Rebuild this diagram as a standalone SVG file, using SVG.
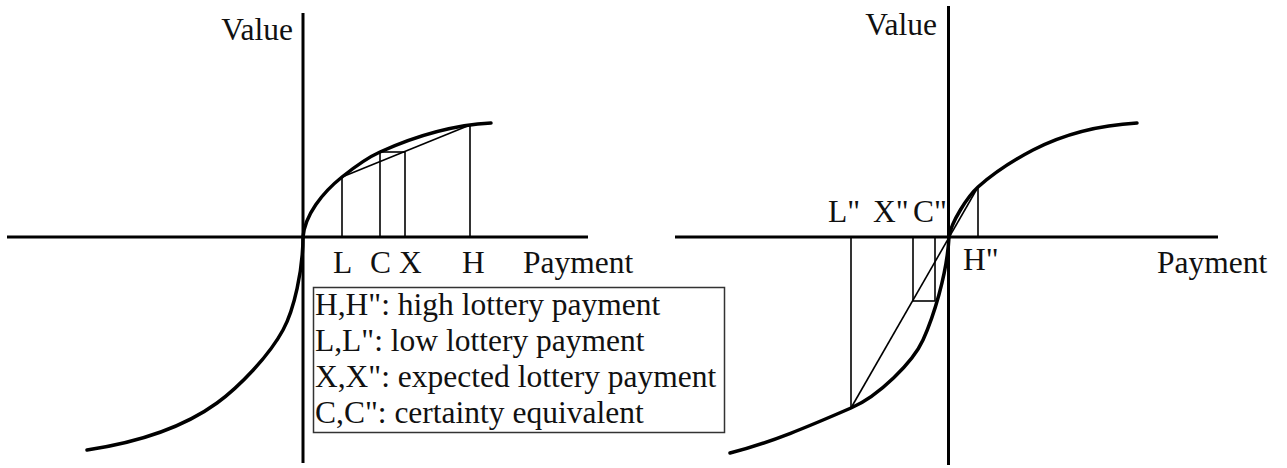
<svg xmlns="http://www.w3.org/2000/svg" width="1287" height="468" viewBox="0 0 1287 468">
<style>
text{font-family:"Liberation Serif","Times New Roman",serif;font-size:31.5px;fill:#111}
.axis{stroke:#000;stroke-width:3;fill:none}
.curve{stroke:#000;stroke-width:3.5;fill:none;stroke-linecap:round}
.thin{stroke:#000;stroke-width:1.6;fill:none}
.box{stroke:#333;stroke-width:1.5;fill:none}
</style>
<rect width="1287" height="468" fill="#fff"/>
<g id="left-diagram">
  <g id="left-axes">
    <line class="axis" x1="7" y1="237" x2="588" y2="237"/>
    <line class="axis" x1="303" y1="13" x2="303" y2="463"/>
    <text x="293" y="40" text-anchor="end">Value</text>
    <text x="523" y="273">Payment</text>
  </g>
  <g id="left-curve">
    <path class="curve" d="M303,237 C305,215 322,193 342,177 C355,166.6 367,157.8 380,152 C417,135.3 454,124.9 491,123"/>
    <path class="curve" d="M303,237 C303,270 294,310 283,330 C269,356 239,387 217,403 C177,432 127,444 87,450"/>
  </g>
  <g id="left-markers">
    <line class="thin" x1="342" y1="177" x2="342" y2="237"/>
    <line class="thin" x1="380" y1="152" x2="380" y2="237"/>
    <line class="thin" x1="405" y1="151.5" x2="405" y2="237"/>
    <line class="thin" x1="470" y1="125" x2="470" y2="237"/>
    <line class="thin" x1="380" y1="152" x2="405" y2="152"/>
    <line class="thin" x1="342" y1="177" x2="470" y2="125"/>
    <text x="333" y="273">L</text>
    <text x="370" y="273">C</text>
    <text x="399" y="273">X</text>
    <text x="462" y="273">H</text>
  </g>
  <g id="legend">
    <rect class="box" x="313.5" y="287.5" width="411" height="145"/>
    <text x="315" y="315">H,H": high lottery payment</text>
    <text x="315" y="351">L,L": low lottery payment</text>
    <text x="315" y="387">X,X": expected lottery payment</text>
    <text x="315" y="423">C,C": certainty equivalent</text>
  </g>
</g>
<g id="right-diagram">
  <g id="right-axes">
    <line class="axis" x1="675" y1="237" x2="1218" y2="237"/>
    <line class="axis" x1="948.5" y1="6" x2="948.5" y2="465"/>
    <text x="937" y="35" text-anchor="end">Value</text>
    <text x="1157" y="273">Payment</text>
  </g>
  <g id="right-curve">
    <path class="curve" d="M949,237 C951,222 968,196 978,187 C996,171 1015,159.4 1033,150 C1068,132 1102,125 1137,123"/>
    <path class="curve" d="M949,237 C947,275 933,318 923,340 C913,362 879,396 851,408 C811,425.4 770,443 730,453"/>
  </g>
  <g id="right-markers">
    <line class="thin" x1="978" y1="187" x2="978" y2="237"/>
    <line class="thin" x1="851" y1="237" x2="851" y2="408"/>
    <line class="thin" x1="913" y1="237" x2="913" y2="301"/>
    <line class="thin" x1="935" y1="237" x2="935" y2="301"/>
    <line class="thin" x1="913" y1="301" x2="935" y2="301"/>
    <line class="thin" x1="851" y1="408" x2="978" y2="187"/>
    <text x="828" y="222">L"</text>
    <text x="873" y="222">X"</text>
    <text x="913" y="222">C"</text>
    <text x="963" y="270">H"</text>
  </g>
</g>
</svg>
